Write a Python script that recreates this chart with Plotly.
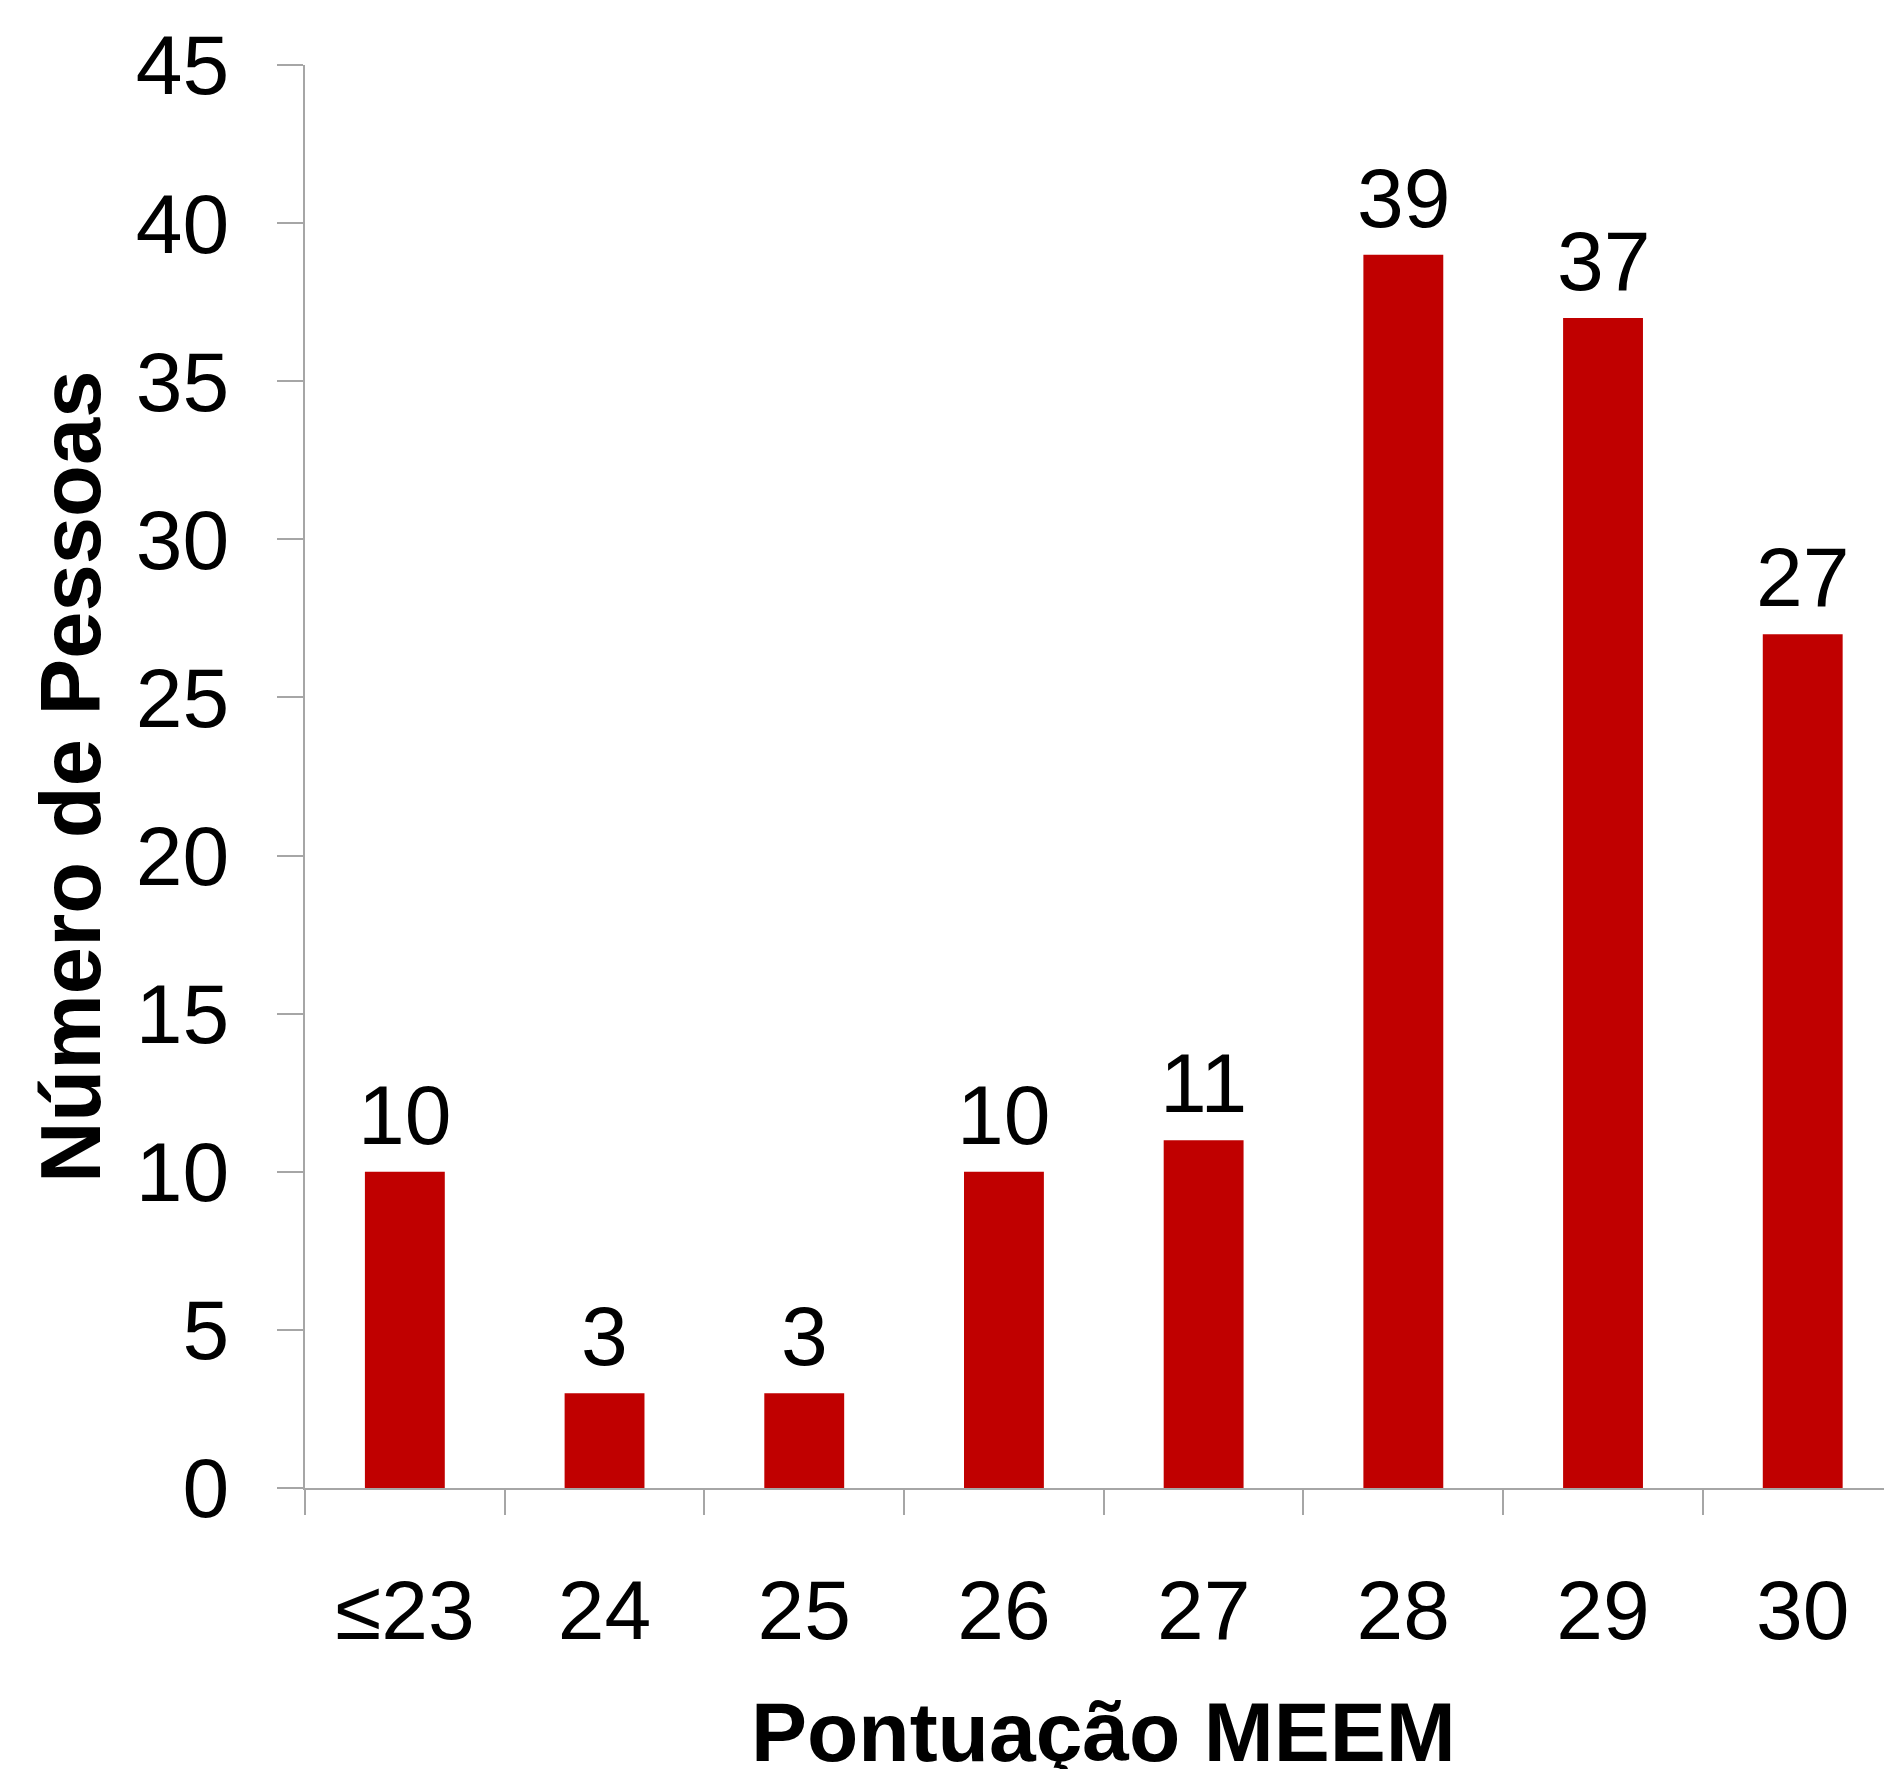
import plotly.graph_objects as go

# MEEM score distribution
categorias = ["≤23", "24", "25", "26", "27", "28", "29", "30"]
pessoas = [10, 3, 3, 10, 11, 39, 37, 27]
y_ticks = [0, 5, 10, 15, 20, 25, 30, 35, 40, 45]

FONT = "Liberation Sans, Arial, sans-serif"
AXIS_GRAY = "#A6A6A6"
BAR_RED = "#C00000"

posicoes = list(range(len(categorias)))

fig = go.Figure()
fig.add_trace(go.Bar(
    x=posicoes,
    y=pessoas,
    width=0.4,
    marker=dict(color=BAR_RED, line=dict(width=0)),
    showlegend=False,
))

# value labels above each bar
for i, v in zip(posicoes, pessoas):
    fig.add_annotation(
        x=i, y=v, xref="x", yref="y",
        text=str(v), showarrow=False,
        yanchor="bottom", yshift=8,
        font=dict(family=FONT, size=84, color="black"),
    )

# axis titles
fig.add_annotation(
    x=3.5, y=-0.1715, xref="x", yref="paper",
    text="<b>Pontuação MEEM</b>", showarrow=False,
    xanchor="center", yanchor="middle",
    font=dict(family=FONT, size=84, color="black"),
)
fig.add_annotation(
    x=-0.1485, y=0.5, xref="paper", yref="paper",
    text="<b>Número de Pessoas</b>", showarrow=False,
    textangle=-90, xanchor="center", yanchor="middle",
    font=dict(family=FONT, size=85, color="black"),
)

fig.update_layout(
    width=1884, height=1769,
    margin=dict(l=305, r=0, t=65, b=281),
    paper_bgcolor="white", plot_bgcolor="white",
    font=dict(family=FONT, size=84, color="black"),
    xaxis=dict(
        type="linear",
        range=[-0.5, 7.407],
        tickmode="array",
        tickvals=posicoes,
        ticktext=categorias,
        showgrid=False, zeroline=False,
        showline=True, linecolor=AXIS_GRAY, linewidth=2,
        ticks="",
        tickfont=dict(family=FONT, size=84, color="black"),
        ticklabelstandoff=48,
        # tick marks on the category boundaries
        minor=dict(
            tickmode="array",
            tickvals=[i - 0.5 for i in range(len(categorias) + 1)],
            ticks="outside", ticklen=25, tickwidth=2, tickcolor=AXIS_GRAY,
            showgrid=False,
        ),
    ),
    yaxis=dict(
        range=[0, 45],
        tickmode="array", tickvals=y_ticks,
        showgrid=False, zeroline=False,
        showline=True, linecolor=AXIS_GRAY, linewidth=2,
        ticks="outside", ticklen=26, tickwidth=2, tickcolor=AXIS_GRAY,
        tickfont=dict(family=FONT, size=84, color="black"),
        ticklabelstandoff=31,
    ),
)

fig.write_html("out.html")
